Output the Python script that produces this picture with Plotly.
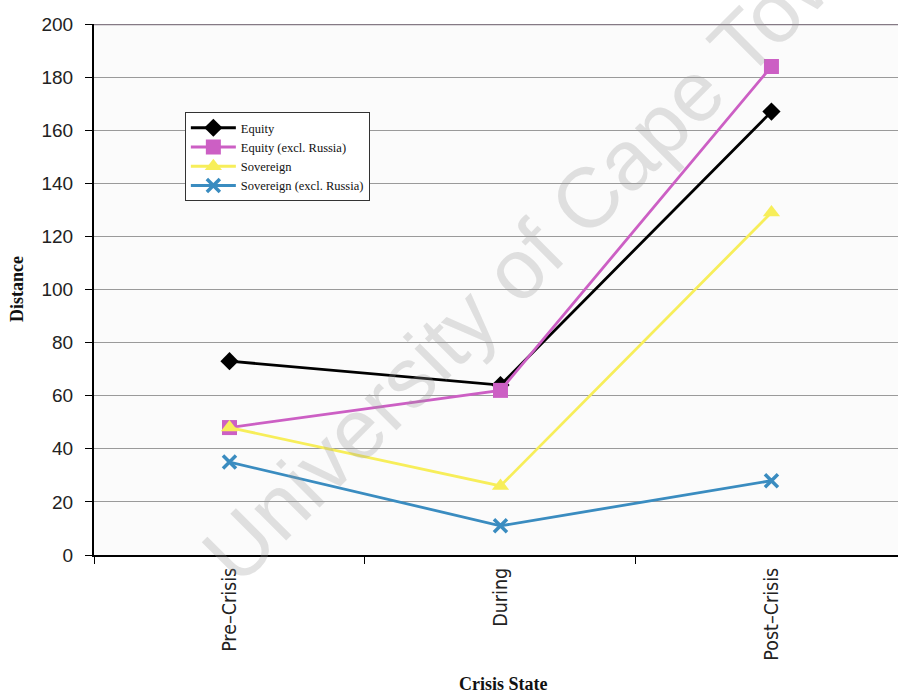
import plotly.graph_objects as go

# Crisis periods on the horizontal axis
states = ["Pre\u2013Crisis", "During", "Post\u2013Crisis"]

# Distance measures per series
equity = [73, 64, 167]
equity_ex_russia = [48, 62, 184]
sovereign = [48, 26, 129]
sovereign_ex_russia = [35, 11, 28]

y_ticks = [0, 20, 40, 60, 80, 100, 120, 140, 160, 180, 200]

series = [
    ("Equity", equity, "#000000", "diamond", 14),
    ("Equity (excl. Russia)", equity_ex_russia, "#cc5fc4", "square", 15),
    ("Sovereign", sovereign, "#f7ee5a", "triangle-up", 15),
    ("Sovereign (excl. Russia)", sovereign_ex_russia, "#3a8cc0", "x-thin-open", 13),
]

serif = "Liberation Serif, Times New Roman, serif"

fig = go.Figure()
for name, vals, color, symbol, size in series:
    marker = dict(symbol=symbol, size=size, color=color)
    if symbol == "x-thin-open":
        marker["line"] = dict(color=color, width=3.5)
    fig.add_trace(go.Scatter(
        x=states, y=vals, name=name, mode="lines+markers",
        line=dict(color=color, width=2.8), marker=marker,
    ))

# dark rule along the top of the value range
fig.add_shape(type="line", xref="paper", yref="y", x0=0, x1=1, y0=200, y1=200,
              line=dict(color="#857a85", width=2.5), layer="above")

# diagonal watermark
fig.add_annotation(
    text="University of Cape Town", xref="paper", yref="paper",
    x=0.557, y=0.5857, showarrow=False, textangle=-45,
    font=dict(family="Liberation Sans, Arial, sans-serif", size=85,
              color="rgba(150,150,150,0.28)"),
)

# axis titles
fig.add_annotation(
    text="<b>Crisis State</b>", xref="paper", yref="paper",
    x=0.509, y=-0.243, showarrow=False, xanchor="center", yanchor="middle",
    font=dict(family=serif, size=18, color="#111"),
)
fig.add_annotation(
    text="<b>Distance</b>", xref="paper", yref="paper",
    x=-0.0958, y=0.501, showarrow=False, xanchor="center", yanchor="middle",
    textangle=-90, font=dict(family=serif, size=18, color="#111"),
)

fig.update_layout(
    width=898, height=697,
    margin=dict(l=94, r=0, t=24, b=142),
    paper_bgcolor="#ffffff", plot_bgcolor="#fbfbfb",
    showlegend=True,
    legend=dict(
        x=0.113, y=0.834, xanchor="left", yanchor="top",
        bgcolor="#ffffff", bordercolor="#333333", borderwidth=1,
        font=dict(family=serif, size=12.5, color="#111"),
        itemwidth=45, tracegroupgap=0,
    ),
    xaxis=dict(
        type="category", range=[-0.5, 2.467], tickson="boundaries",
        ticks="outside", ticklen=7, tickcolor="#000", tickwidth=1,
        ticklabelstandoff=3,
        tickangle=-90, showgrid=False,
        showline=True, linecolor="#000", linewidth=2,
        tickfont=dict(family="DejaVu Sans Condensed, Liberation Sans Narrow, sans-serif",
                      size=19.5, color="#222"),
    ),
    yaxis=dict(
        range=[0, 200], tickvals=y_ticks,
        ticks="outside", ticklen=7, tickcolor="#000", tickwidth=1,
        ticklabelstandoff=8,
        showgrid=True, gridcolor="#9a9a9a", gridwidth=1,
        showline=True, linecolor="#000", linewidth=2, zeroline=False,
        tickfont=dict(family="Liberation Sans, Arial, sans-serif", size=19, color="#222"),
    ),
)

fig.write_html("out.html")
